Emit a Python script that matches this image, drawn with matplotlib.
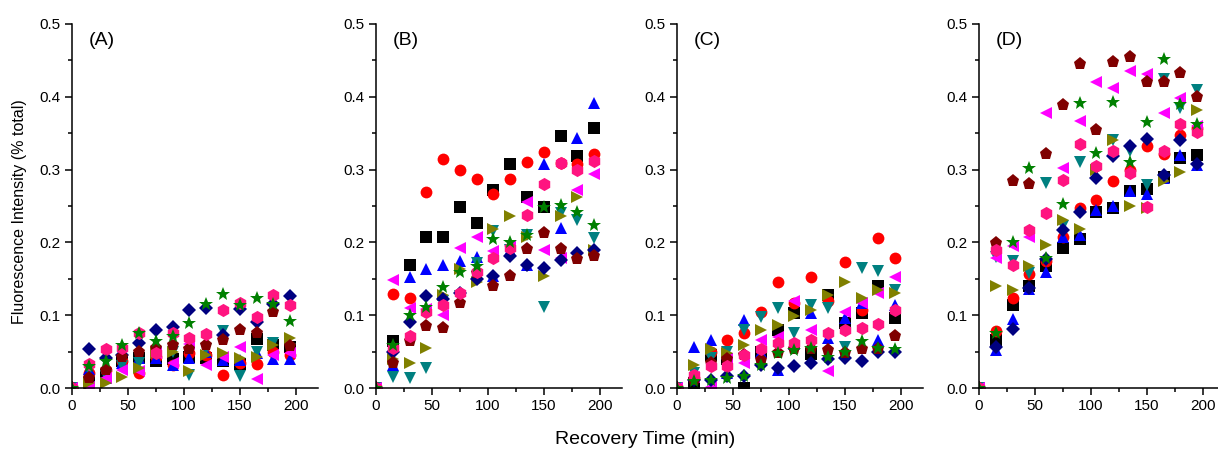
import matplotlib
matplotlib.use("Agg")
import matplotlib.pyplot as plt
from matplotlib.ticker import MultipleLocator

plt.rcParams['font.family'] = ['Liberation Sans', 'DejaVu Sans']

time = [0, 15, 30, 45, 60, 75, 90, 105, 120, 135, 150, 165, 180, 195]

series_names = ["square", "circle", "up", "down", "left", "right", "diamond", "pentagon", "hexagon", "star"]
markers = ['s', 'o', '^', 'v', '<', '>', 'D', 'p', 'h', '*']
colors = ['#000000', '#FF0000', '#0000FF', '#008080', '#FF00FF', '#808000', '#000080', '#800000', '#FF1480', '#008000']
msizes = [8, 8.5, 9, 9, 9, 9, 7.5, 9.5, 9.5, 10.5]

panel_A = {
    "square":   [0, 0.007, 0.018, 0.037, 0.041, 0.037, 0.040, 0.043, 0.041, 0.037, 0.033, 0.067, 0.059, 0.057],
    "circle":   [0, 0.021, 0.025, 0.037, 0.020, 0.043, 0.032, 0.048, 0.046, 0.018, 0.034, 0.033, 0.050, 0.046],
    "up":       [0, 0.026, 0.014, 0.034, 0.041, 0.041, 0.032, 0.041, 0.050, 0.039, 0.039, 0.048, 0.040, 0.040],
    "down":     [0, 0.025, 0.016, 0.030, 0.035, 0.048, 0.050, 0.018, 0.053, 0.078, 0.016, 0.050, 0.062, 0.053],
    "left":     [0, 0.002, 0.014, 0.025, 0.024, 0.048, 0.034, 0.060, 0.031, 0.043, 0.056, 0.013, 0.046, 0.048],
    "right":    [0, 0.007, 0.007, 0.015, 0.027, 0.048, 0.050, 0.024, 0.046, 0.048, 0.041, 0.043, 0.059, 0.069],
    "diamond":  [0, 0.054, 0.041, 0.045, 0.062, 0.080, 0.084, 0.107, 0.110, 0.073, 0.108, 0.090, 0.116, 0.127],
    "pentagon": [0, 0.014, 0.025, 0.043, 0.050, 0.055, 0.059, 0.054, 0.059, 0.066, 0.080, 0.076, 0.104, 0.058],
    "hexagon":  [0, 0.033, 0.054, 0.055, 0.076, 0.048, 0.075, 0.069, 0.074, 0.107, 0.117, 0.098, 0.128, 0.114],
    "star":     [0, 0.030, 0.037, 0.059, 0.075, 0.065, 0.071, 0.089, 0.116, 0.129, 0.114, 0.123, 0.116, 0.092],
}

panel_B = {
    "square":   [0, 0.064, 0.169, 0.207, 0.208, 0.248, 0.226, 0.272, 0.308, 0.262, 0.249, 0.346, 0.318, 0.357],
    "circle":   [0, 0.129, 0.124, 0.269, 0.315, 0.300, 0.287, 0.267, 0.287, 0.310, 0.324, 0.309, 0.308, 0.322],
    "up":       [0, 0.032, 0.152, 0.163, 0.169, 0.174, 0.180, 0.154, 0.190, 0.169, 0.308, 0.220, 0.343, 0.392],
    "down":     [0, 0.015, 0.014, 0.027, 0.120, 0.126, 0.172, 0.215, 0.189, 0.210, 0.111, 0.240, 0.231, 0.206],
    "left":     [0, 0.149, 0.110, 0.108, 0.100, 0.192, 0.207, 0.188, 0.195, 0.255, 0.189, 0.178, 0.272, 0.294],
    "right":    [0, 0.040, 0.035, 0.055, 0.128, 0.163, 0.146, 0.218, 0.236, 0.208, 0.154, 0.236, 0.263, 0.190],
    "diamond":  [0, 0.050, 0.090, 0.127, 0.122, 0.131, 0.150, 0.154, 0.181, 0.169, 0.165, 0.176, 0.186, 0.189],
    "pentagon": [0, 0.035, 0.064, 0.085, 0.083, 0.117, 0.158, 0.140, 0.154, 0.191, 0.213, 0.191, 0.177, 0.181],
    "hexagon":  [0, 0.055, 0.071, 0.105, 0.114, 0.130, 0.160, 0.178, 0.192, 0.238, 0.280, 0.309, 0.299, 0.312],
    "star":     [0, 0.059, 0.100, 0.111, 0.139, 0.160, 0.167, 0.204, 0.201, 0.210, 0.248, 0.252, 0.242, 0.224],
}

panel_C = {
    "square":   [0, 0.007, 0.045, 0.040, 0.000, 0.050, 0.080, 0.103, 0.047, 0.128, 0.089, 0.103, 0.140, 0.096],
    "circle":   [0, 0.014, 0.050, 0.066, 0.076, 0.105, 0.146, 0.117, 0.153, 0.119, 0.173, 0.107, 0.206, 0.179],
    "up":       [0, 0.057, 0.066, 0.021, 0.094, 0.050, 0.025, 0.060, 0.103, 0.069, 0.096, 0.117, 0.066, 0.114],
    "down":     [0, 0.020, 0.041, 0.049, 0.079, 0.097, 0.110, 0.075, 0.114, 0.110, 0.057, 0.165, 0.161, 0.135],
    "left":     [0, 0.015, 0.002, 0.040, 0.035, 0.066, 0.070, 0.119, 0.080, 0.023, 0.105, 0.117, 0.130, 0.153],
    "right":    [0, 0.032, 0.053, 0.048, 0.059, 0.079, 0.087, 0.099, 0.107, 0.128, 0.146, 0.124, 0.134, 0.131],
    "diamond":  [0, 0.011, 0.011, 0.016, 0.016, 0.032, 0.027, 0.030, 0.034, 0.040, 0.041, 0.037, 0.050, 0.050],
    "pentagon": [0, 0.011, 0.034, 0.040, 0.046, 0.039, 0.048, 0.053, 0.053, 0.052, 0.048, 0.053, 0.054, 0.071],
    "hexagon":  [0, 0.018, 0.030, 0.030, 0.046, 0.053, 0.062, 0.062, 0.066, 0.075, 0.080, 0.082, 0.088, 0.107],
    "star":     [0, 0.009, 0.011, 0.014, 0.016, 0.032, 0.048, 0.052, 0.055, 0.043, 0.050, 0.064, 0.055, 0.053],
}

panel_D = {
    "square":   [0, 0.066, 0.114, 0.140, 0.167, 0.192, 0.204, 0.242, 0.247, 0.270, 0.274, 0.290, 0.316, 0.320],
    "circle":   [0, 0.078, 0.124, 0.157, 0.174, 0.208, 0.247, 0.258, 0.284, 0.300, 0.332, 0.322, 0.348, 0.357],
    "up":       [0, 0.052, 0.095, 0.136, 0.160, 0.208, 0.210, 0.245, 0.250, 0.271, 0.267, 0.288, 0.320, 0.306],
    "down":     [0, 0.180, 0.175, 0.158, 0.281, 0.222, 0.311, 0.300, 0.341, 0.325, 0.279, 0.424, 0.384, 0.409],
    "left":     [0, 0.178, 0.195, 0.207, 0.378, 0.302, 0.367, 0.421, 0.412, 0.435, 0.431, 0.378, 0.399, 0.360],
    "right":    [0, 0.140, 0.135, 0.167, 0.197, 0.231, 0.218, 0.299, 0.340, 0.250, 0.247, 0.284, 0.297, 0.382],
    "diamond":  [0, 0.057, 0.081, 0.137, 0.177, 0.217, 0.242, 0.288, 0.319, 0.332, 0.342, 0.293, 0.341, 0.308],
    "pentagon": [0, 0.199, 0.284, 0.280, 0.322, 0.389, 0.445, 0.355, 0.448, 0.454, 0.420, 0.421, 0.433, 0.400],
    "hexagon":  [0, 0.189, 0.169, 0.217, 0.241, 0.286, 0.335, 0.305, 0.326, 0.295, 0.248, 0.326, 0.363, 0.352],
    "star":     [0, 0.075, 0.201, 0.302, 0.178, 0.253, 0.392, 0.323, 0.393, 0.310, 0.366, 0.452, 0.390, 0.363],
}

panels = [panel_A, panel_B, panel_C, panel_D]
panel_labels = ["(A)", "(B)", "(C)", "(D)"]

W, H = 1218, 459
fig = plt.figure(figsize=(W / 100, H / 100), dpi=100)

lefts = [72, 376, 677, 979]
ax_w = 246
bottom_px = 388
top_px = 24

for i, (data, lab) in enumerate(zip(panels, panel_labels)):
    ax = fig.add_axes([lefts[i] / W, (H - bottom_px) / H, ax_w / W, (bottom_px - top_px) / H])
    for name, m, c, ms in zip(series_names, markers, colors, msizes):
        ax.plot(time, data[name], linestyle='none', marker=m, color=c,
                markersize=ms, markeredgewidth=0)
    ax.set_xlim(0, 220)
    ax.set_ylim(0, 0.5)
    ax.xaxis.set_major_locator(MultipleLocator(50))
    ax.xaxis.set_minor_locator(MultipleLocator(25))
    ax.yaxis.set_major_locator(MultipleLocator(0.1))
    ax.yaxis.set_minor_locator(MultipleLocator(0.05))
    ax.spines['top'].set_visible(False)
    ax.spines['right'].set_visible(False)
    for s in ['left', 'bottom']:
        ax.spines[s].set_linewidth(1.1)
    ax.tick_params(which='major', direction='out', length=5, width=1.1, labelsize=11, pad=3)
    ax.tick_params(which='minor', direction='out', length=3, width=1.1)
    ax.yaxis.set_major_formatter(matplotlib.ticker.FormatStrFormatter('%.1f'))
    ax.text(0.07, 0.955, lab, transform=ax.transAxes, fontsize=14, ha='left', va='center')

fig.text(645 / W, 1 - 440 / H, "Recovery Time (min)", fontsize=14, ha='center', va='center')
fig.text(20 / W, 1 - 212 / H, "Fluorescence Intensity (% total)", fontsize=11.5,
         ha='center', va='center', rotation=90)

fig.savefig("out.png", dpi=100)
